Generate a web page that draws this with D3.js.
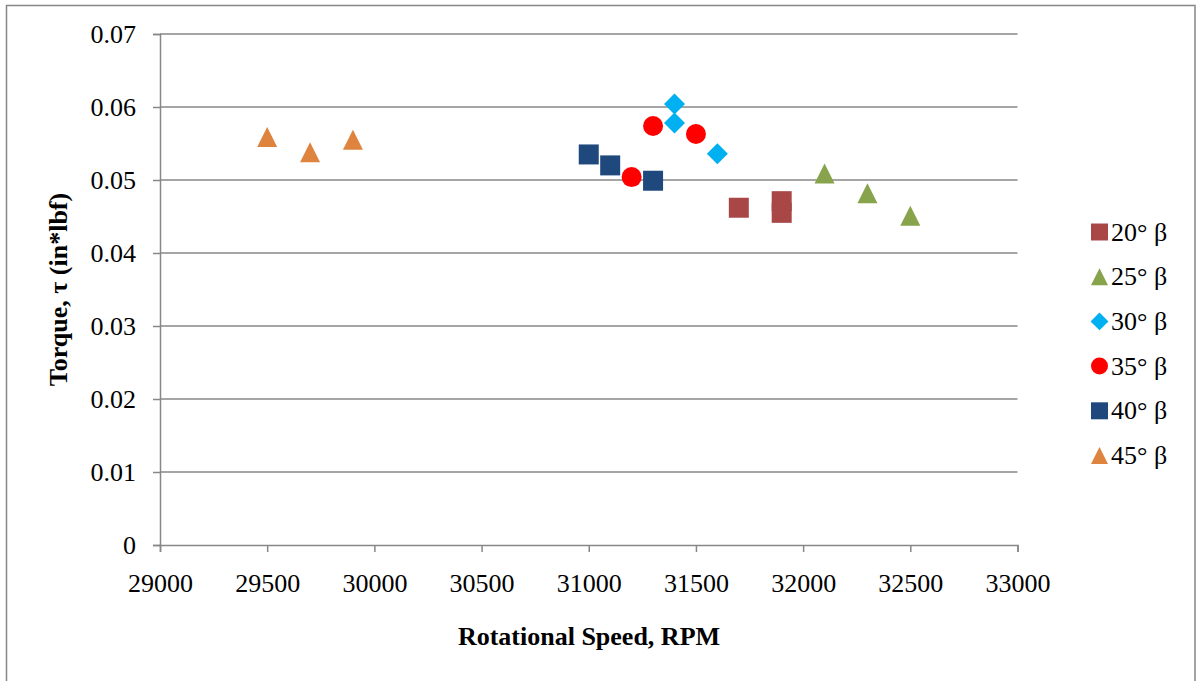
<!DOCTYPE html>
<html>
<head>
<meta charset="utf-8">
<script src="https://cdn.jsdelivr.net/npm/d3@7"></script>
<style>
  html, body { margin: 0; padding: 0; background: #fff; }
  svg { display: block; }
  text { font-family: "Liberation Serif", "Times New Roman", serif; fill: #000; }
</style>
</head>
<body>
<svg id="chart" width="1197" height="681"></svg>
<script>
// Torque measured against rotational speed, one series per blade angle β
const seriesNames = ["20° β", "25° β", "30° β", "35° β", "40° β", "45° β"];
const seriesShapes = ["square", "triangle", "diamond", "circle", "square", "triangle"];
const seriesColors = ["#A94747", "#87A34B", "#00B0F0", "#FF0000", "#1F497D", "#DF843E"];

const rpm20 = [31700, 31900, 31900];
const torque20 = [0.0462, 0.0471, 0.0455];
const rpm25 = [32100, 32300, 32500];
const torque25 = [0.0509, 0.0482, 0.0451];
const rpm30 = [31400, 31400, 31600];
const torque30 = [0.0604, 0.0578, 0.0536];
const rpm35 = [31200, 31300, 31500];
const torque35 = [0.0504, 0.0574, 0.0563];
const rpm40 = [31000, 31100, 31300];
const torque40 = [0.0535, 0.0520, 0.0499];
const rpm45 = [29500, 29700, 29900];
const torque45 = [0.0559, 0.0538, 0.0555];

const xTicks = [29000, 29500, 30000, 30500, 31000, 31500, 32000, 32500, 33000];
const yTicks = [0, 0.01, 0.02, 0.03, 0.04, 0.05, 0.06, 0.07];
const yTickLabels = ["0", "0.01", "0.02", "0.03", "0.04", "0.05", "0.06", "0.07"];

const allRpm = [rpm20, rpm25, rpm30, rpm35, rpm40, rpm45];
const allTorque = [torque20, torque25, torque30, torque35, torque40, torque45];

const svg = d3.select("#chart");
const plot = { left: 160, right: 1017.5, top: 34, bottom: 545 };
const gridColor = "#878787";
const fontSize = 26;

// outer frame
svg.append("rect")
  .attr("x", 6.5).attr("y", 5.5)
  .attr("width", 1188.5).attr("height", 690)
  .attr("fill", "none").attr("stroke", gridColor).attr("stroke-width", 1.5);

const x = d3.scaleLinear().domain([29000, 33000]).range([plot.left, plot.right]);
const y = d3.scaleLinear().domain([0, 0.07]).range([plot.bottom, plot.top]);

// horizontal gridlines
svg.append("g").selectAll("line")
  .data(yTicks.filter(v => v > 0))
  .join("line")
  .attr("x1", plot.left).attr("x2", plot.right)
  .attr("y1", d => y(d)).attr("y2", d => y(d))
  .attr("stroke", gridColor).attr("stroke-width", 1.5);

// y axis
const yAxis = svg.append("g")
  .attr("transform", `translate(${plot.left},0)`)
  .call(d3.axisLeft(y).tickValues(yTicks).tickSize(7).tickPadding(17)
    .tickFormat((d, i) => yTickLabels[i]));
yAxis.select(".domain").attr("stroke", gridColor).attr("stroke-width", 1.5);
yAxis.selectAll(".tick line").attr("stroke", gridColor).attr("stroke-width", 1.5);
yAxis.selectAll(".tick text")
  .attr("font-family", "Liberation Serif").attr("font-size", fontSize).attr("fill", "#000");

// x axis
const xAxis = svg.append("g")
  .attr("transform", `translate(0,${plot.bottom})`)
  .call(d3.axisBottom(x).tickValues(xTicks).tickSize(7).tickPadding(22)
    .tickFormat(d3.format("d")));
xAxis.select(".domain").attr("stroke", gridColor).attr("stroke-width", 1.5);
xAxis.selectAll(".tick line").attr("stroke", gridColor).attr("stroke-width", 1.5);
xAxis.selectAll(".tick text")
  .attr("font-family", "Liberation Serif").attr("font-size", fontSize).attr("fill", "#000");

// axis titles
svg.append("text")
  .attr("x", 589).attr("y", 645)
  .attr("text-anchor", "middle")
  .attr("font-size", fontSize).attr("font-weight", "bold")
  .text("Rotational Speed, RPM");

svg.append("text")
  .attr("transform", "translate(66.5,289.5) rotate(-90)")
  .attr("text-anchor", "middle")
  .attr("font-size", fontSize).attr("font-weight", "bold")
  .text("Torque, τ (in*lbf)");

// marker shapes, sized to roughly a 20px box
function markerPath(shape, s) {
  const h = s / 2;
  if (shape === "square") return `M${-h},${-h}H${h}V${h}H${-h}Z`;
  if (shape === "triangle") return `M0,${-h}L${h},${h}L${-h},${h}Z`;
  if (shape === "diamond") return `M0,${-h * 1.05}L${h * 1.05},0L0,${h * 1.05}L${-h * 1.05},0Z`;
  return d3.arc()({ innerRadius: 0, outerRadius: h, startAngle: 0, endAngle: 2 * Math.PI });
}

const markers = svg.append("g");
seriesNames.forEach((name, i) => {
  const pts = allRpm[i].map((r, j) => ({ r, t: allTorque[i][j] }));
  markers.append("g").selectAll("path")
    .data(pts)
    .join("path")
    .attr("transform", d => `translate(${x(d.r)},${y(d.t)})`)
    .attr("d", markerPath(seriesShapes[i], 20))
    .attr("fill", seriesColors[i]);
});

// legend
const legend = svg.append("g");
seriesNames.forEach((name, i) => {
  const cy = 232 + i * 44.7;
  legend.append("path")
    .attr("transform", `translate(1099.5,${cy})`)
    .attr("d", markerPath(seriesShapes[i], 17))
    .attr("fill", seriesColors[i]);
  legend.append("text")
    .attr("x", 1111).attr("y", cy + 8.5)
    .attr("font-size", fontSize)
    .text(name);
});
</script>
</body>
</html>
